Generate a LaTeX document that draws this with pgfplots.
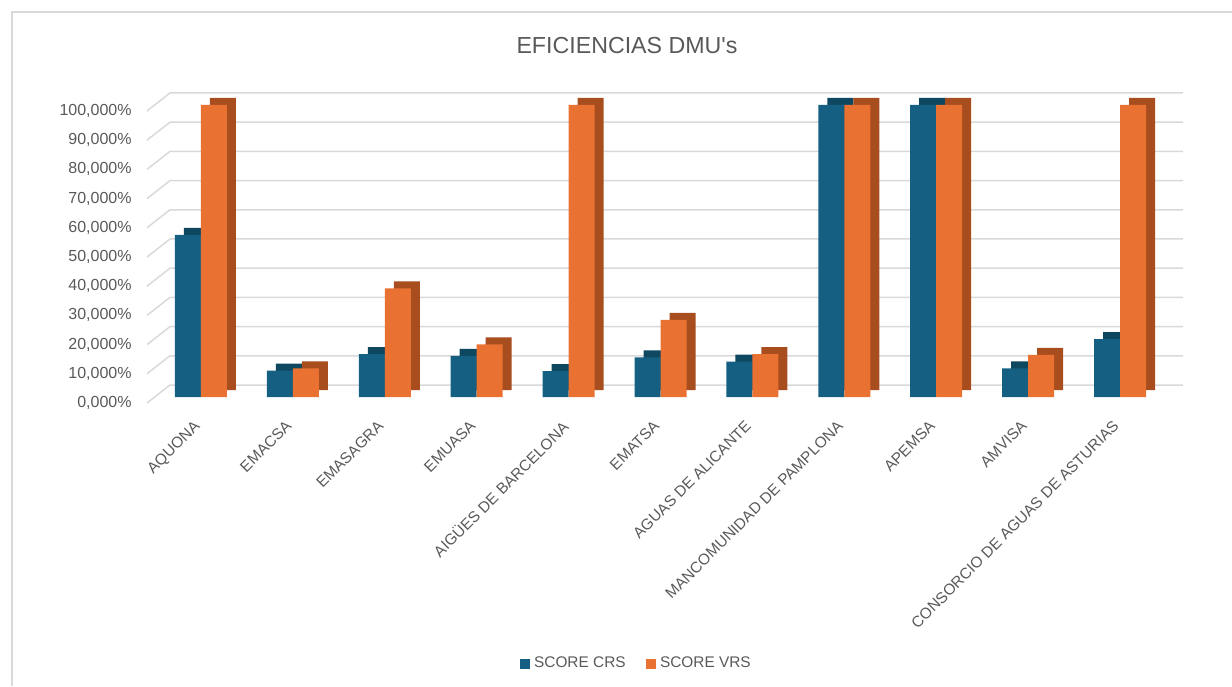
\documentclass[border=0pt]{standalone}
\usepackage{pgfplots}
\pgfplotsset{compat=1.18}
\usepackage{fontspec}
\setmainfont{Liberation Sans}
\definecolor{crs}{HTML}{156082}
\definecolor{crsdark}{HTML}{0E4760}
\definecolor{vrs}{HTML}{E97132}
\definecolor{vrsdark}{HTML}{A84D1E}
\definecolor{txt}{HTML}{595959}
\definecolor{gridc}{HTML}{D9D9D9}
\begin{document}
\begin{tikzpicture}
\begin{axis}[
  at={(0pt,0pt)}, anchor=south west,
  scale only axis, width=505.5pt, height=152.5pt,
  xmin=-0.5, xmax=10.5, ymin=0, ymax=104.45,
  clip=false,
  ybar, bar width=13pt,
  axis line style={draw=none},
  major tick length=0pt,
  xtick={0,...,10},
  xticklabels={AQUONA,EMACSA,EMASAGRA,EMUASA,AIGÜES DE BARCELONA,EMATSA,AGUAS DE ALICANTE,MANCOMUNIDAD DE PAMPLONA,APEMSA,AMVISA,CONSORCIO DE AGUAS DE ASTURIAS},
  xticklabel style={yshift=-11pt, xshift=-4pt, rotate=45, anchor=north east, inner sep=0pt, font=\fontsize{7.7}{9}\selectfont, text=txt},
  ytick={0,10,...,100},
  yticklabels={{0,000\%},{10,000\%},{20,000\%},{30,000\%},{40,000\%},{50,000\%},{60,000\%},{70,000\%},{80,000\%},{90,000\%},{100,000\%}},
  yticklabel style={anchor=east, inner sep=0pt, xshift=-11.5pt, yshift=-3pt, font=\fontsize{8}{9}\selectfont, text=txt},
  /pgf/number format/assume math mode=true,
  legend style={at={(rel axis cs:0.477,-0.875)}, anchor=center, draw=none, fill=none,
    legend columns=2, font=\fontsize{7.7}{9}\selectfont, text=txt,
    /tikz/every even column/.append style={column sep=8pt}},
  legend image code/.code={\fill[#1] (0pt,-2.6pt) rectangle (5.2pt,2.6pt);},
]
% back wall grid and floor stubs
\foreach \v in {0,10,...,100} {
  \edef\tmp{\noexpand\draw[gridc, line width=0.75pt] (axis cs:-0.587,\v-2.05) -- (axis cs:-0.337,\v+4.11) -- (axis cs:10.686,\v+4.11);}
  \tmp
}
% depth faces
\addplot[forget plot, fill=crsdark, draw=none, bar shift=-6.5pt, xshift=4.5pt, yshift=3.5pt] coordinates {
(0,55.5) (1,9.0) (2,14.7) (3,14.1) (4,8.9) (5,13.6) (6,12.1) (7,100) (8,100) (9,9.8) (10,19.8)};
\addplot[forget plot, fill=vrsdark, draw=none, bar shift=6.5pt, xshift=4.5pt, yshift=3.5pt] coordinates {
(0,100) (1,9.8) (2,37.2) (3,18.0) (4,100) (5,26.4) (6,14.7) (7,100) (8,100) (9,14.4) (10,100)};
% front faces
\addplot[fill=crs, draw=none, bar shift=-6.5pt] coordinates {
(0,55.5) (1,9.0) (2,14.7) (3,14.1) (4,8.9) (5,13.6) (6,12.1) (7,100) (8,100) (9,9.8) (10,19.8)};
\addlegendentry{SCORE CRS}
\addplot[fill=vrs, draw=none, bar shift=6.5pt] coordinates {
(0,100) (1,9.8) (2,37.2) (3,18.0) (4,100) (5,26.4) (6,14.7) (7,100) (8,100) (9,14.4) (10,100)};
\addlegendentry{SCORE VRS}
\end{axis}
\node[text=txt, font=\fontsize{11.6}{13}\selectfont] at (236pt,175.5pt) {EFICIENCIAS DMU\textquotesingle s};
\draw[gridc, line width=0.6pt] (-71.5pt,-144.5pt) -- (-71.5pt,192.5pt) -- (538.5pt,192.5pt);
\pgfresetboundingbox
\path (-77.5pt,-144.5pt) rectangle (538.5pt,198.5pt);
\end{tikzpicture}
\end{document}
